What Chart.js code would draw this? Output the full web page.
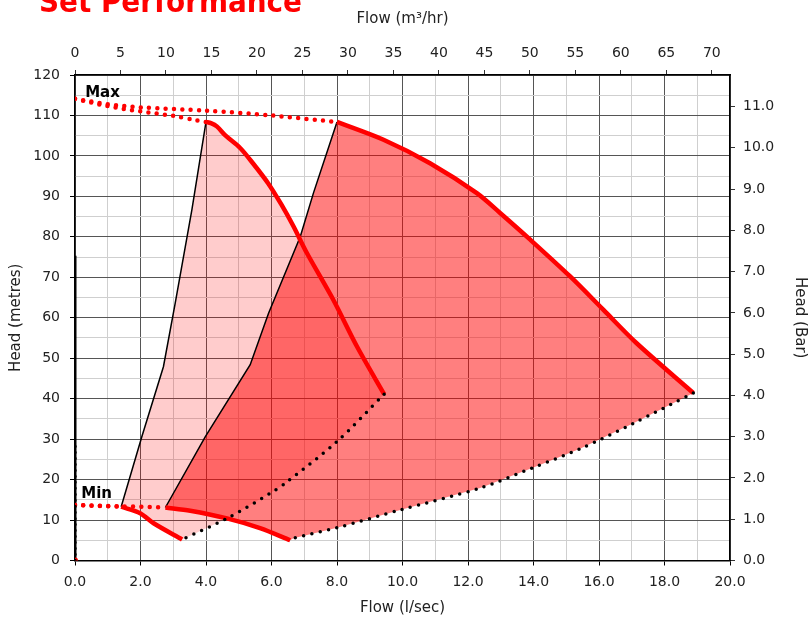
<!DOCTYPE html>
<html>
<head>
<meta charset="utf-8">
<script src="https://cdn.jsdelivr.net/npm/chart.js@4.4.1/dist/chart.umd.min.js"></script>
<style>
  html, body { margin: 0; padding: 0; background: #fff; }
  #wrap { width: 809px; height: 618px; }
</style>
</head>
<body>
<div id="wrap"><canvas id="perfChart" width="809" height="618"></canvas></div>
<script>
// unit conversions for the secondary axes
const M_PER_BAR = 10.2;
const M3HR_PER_LS = 3.6;
const FLOW_MAX = 20;   // l/sec
const HEAD_MAX = 120;  // metres

// small set envelope (flow l/sec, head m)
const smallRise  = [[1.41, 13.3], [2.04, 30.6], [2.70, 47.9], [3.06, 63.6], [3.57, 86.7], [4.00, 108.4]];
const smallCurve = [[4.00, 108.4], [4.15, 108.1], [4.33, 107.3], [4.60, 105.0], [5.05, 101.9], [5.45, 98.0],
                    [5.90, 93.2], [6.30, 88.0], [6.67, 82.6], [7.08, 76.0], [7.89, 64.4], [8.61, 52.9], [9.44, 41.1]];
const smallEnd   = [[9.44, 41.1], [8.00, 29.4], [6.42, 19.1], [5.96, 16.6], [4.64, 10.4], [3.27, 5.2]];
const smallLow   = [[3.27, 5.2], [2.40, 9.2], [1.99, 11.7], [1.41, 13.3]];

// large set envelope
const largeRise  = [[2.76, 13.1], [3.98, 30.6], [5.35, 48.4], [5.91, 61.1], [6.88, 80.1], [7.28, 90.8], [8.00, 108.4]];
const largeCurve = [[8.00, 108.4], [9.42, 104.0], [10.84, 98.2], [12.27, 90.8], [12.98, 85.9], [13.90, 79.3],
                    [15.12, 70.2], [16.13, 62.0], [17.15, 53.7], [18.88, 41.4]];
const largeEnd   = [[18.88, 41.4], [17.05, 33.9], [15.42, 27.6], [14.00, 23.0], [12.37, 17.9], [9.93, 12.5],
                    [8.00, 8.1], [6.67, 5.5], [6.57, 5.0]];
const largeLow   = [[6.57, 5.0], [5.65, 8.0], [4.64, 10.4], [3.52, 12.3], [2.76, 13.1]];

// max / min head guide lines and zero-flow line
const maxToSmall = [[0, 114.1], [1, 112.3], [2, 111.0], [3, 109.9], [3.7, 108.8], [4.0, 108.4]];
const maxToLarge = [[0, 114.1], [1, 112.8], [2, 112.0], [4, 111.2], [6, 110.0], [7.6, 108.7], [8.0, 108.4]];
const minToSmall = [[0, 13.7], [1.41, 13.3]];
const minToLarge = [[0, 13.7], [1.41, 13.4], [2.76, 13.1]];
const zeroSolid  = [[0, 0], [0, 75.3]];
const zeroDotted = [[0, 0], [0, 29.1]];
const origin     = [[0, 0]];

const pts = arr => arr.map(([x, y]) => ({ x, y }));

const FONT = '"DejaVu Sans", sans-serif';
const TICK_COL = '#222';
const DARK = '#555';
const LIGHT = '#cfcfcf';

function solid(data, color, width, order, tension = 0) {
    return { data: pts(data), borderColor: color, borderWidth: width, fill: false,
             pointRadius: 0, tension, order };
}
function dotted(data, color, width, gap, order) {
    return { data: pts(data), borderColor: color, borderWidth: width, borderDash: [0, gap],
             borderCapStyle: 'round', fill: false, pointRadius: 0, tension: 0.3, order };
}

const textPlugin = {
    id: 'chartText',
    afterDraw(chart) {
        const { ctx, scales: { x, y } } = chart;
        ctx.save();
        ctx.textBaseline = 'alphabetic';
        ctx.textAlign = 'left';
        ctx.fillStyle = '#ff0000';
        ctx.font = 'bold 30px ' + FONT;
        ctx.fillText('Set Performance', 39, 12, 263);
        ctx.fillStyle = '#000';
        ctx.font = 'bold 15px ' + FONT;
        ctx.fillText('Max', x.getPixelForValue(0.31), y.getPixelForValue(114.6));
        ctx.fillText('Min', x.getPixelForValue(0.19), y.getPixelForValue(15.5));
        ctx.restore();
    }
};

const ctx = document.getElementById('perfChart').getContext('2d');
new Chart(ctx, {
    type: 'line',
    data: {
        datasets: [
            // envelopes
            { data: pts([...smallRise, ...smallCurve, ...smallEnd, ...smallLow]), fill: 'shape',
              backgroundColor: 'rgba(255,0,0,0.2)', borderWidth: 0, pointRadius: 0, tension: 0, order: 10 },
            { data: pts([...largeRise, ...largeCurve, ...largeEnd, ...largeLow]), fill: 'shape',
              backgroundColor: 'rgba(255,0,0,0.5)', borderWidth: 0, pointRadius: 0, tension: 0, order: 9 },
            // outlines
            solid(smallRise, '#000', 1.5, 3),
            solid(largeRise, '#000', 1.5, 3),
            solid(smallCurve, '#ff0000', 4.5, 2, 0.3),
            solid(largeCurve, '#ff0000', 4.5, 2, 0.3),
            solid(smallLow, '#ff0000', 4.5, 2, 0.3),
            solid(largeLow, '#ff0000', 4.5, 2, 0.3),
            dotted(smallEnd, '#000', 3.5, 8.5, 1),
            dotted(largeEnd, '#000', 3.5, 8.5, 1),
            dotted(maxToSmall, '#ff0000', 4.5, 8.3, 1),
            dotted(maxToLarge, '#ff0000', 4.5, 8.3, 1),
            dotted(minToSmall, '#ff0000', 4.5, 8.3, 1),
            dotted(minToLarge, '#ff0000', 4.5, 8.3, 1),
            solid(zeroSolid, '#000', 3, 1),
            dotted(zeroDotted, '#000', 3.5, 6, 0),
            { data: pts(origin), pointRadius: 3, pointBackgroundColor: '#ff0000', pointBorderWidth: 0,
              showLine: false, order: 0 }
        ]
    },
    options: {
        responsive: false,
        animation: false,
        layout: { padding: 0 },
        plugins: { legend: { display: false }, tooltip: { enabled: false } },
        scales: {
            x: {
                type: 'linear', position: 'bottom', min: 0, max: FLOW_MAX,
                afterFit: s => { s.height = 57.5; },
                ticks: { stepSize: 1, autoSkip: false, maxRotation: 0, padding: 8, color: TICK_COL,
                         font: { family: FONT, size: 14 },
                         callback: v => (v % 2 === 0 ? v.toFixed(1) : '') },
                grid: { color: c => (c.tick && c.tick.value % 2 === 0 ? DARK : LIGHT),
                        tickColor: c => (c.tick && c.tick.value % 2 === 0 ? '#000' : 'rgba(0,0,0,0)'),
                        tickLength: 5 },
                border: { color: '#000', width: 1.5 },
                title: { display: true, text: 'Flow (l/sec)', color: TICK_COL,
                         font: { family: FONT, size: 15 }, padding: { top: 0, bottom: 1 } }
            },
            x2: {
                type: 'linear', position: 'top', min: 0, max: FLOW_MAX * M3HR_PER_LS,
                afterFit: s => { s.height = 75; },
                ticks: { stepSize: 5, includeBounds: false, autoSkip: false, maxRotation: 0, padding: 8,
                         color: TICK_COL, font: { family: FONT, size: 14 } },
                grid: { drawOnChartArea: false, tickLength: 5, tickColor: '#333' },
                border: { color: '#000', width: 1.5 },
                title: { display: true, text: 'Flow (m³/hr)', color: TICK_COL,
                         font: { family: FONT, size: 15 }, padding: { top: 10, bottom: 0 } }
            },
            y: {
                type: 'linear', position: 'left', min: 0, max: HEAD_MAX,
                afterFit: s => { s.width = 75; },
                ticks: { stepSize: 5, autoSkip: false, padding: 10, color: TICK_COL,
                         font: { family: FONT, size: 14 },
                         callback: v => (v % 10 === 0 ? v : '') },
                grid: { color: c => (c.tick && c.tick.value % 10 === 0 ? DARK : LIGHT),
                        tickColor: c => (c.tick && c.tick.value % 10 === 0 ? '#000' : 'rgba(0,0,0,0)'),
                        tickLength: 5 },
                border: { color: '#000', width: 1.5 },
                title: { display: true, text: 'Head (metres)', color: TICK_COL,
                         font: { family: FONT, size: 15 }, padding: { top: 7, bottom: 0 } }
            },
            y2: {
                type: 'linear', position: 'right', min: 0, max: HEAD_MAX / M_PER_BAR,
                afterFit: s => { s.width = 79; },
                ticks: { stepSize: 1, includeBounds: false, autoSkip: false, padding: 8, color: TICK_COL,
                         font: { family: FONT, size: 14 }, callback: v => v.toFixed(1) },
                grid: { drawOnChartArea: false, tickLength: 5, tickColor: '#333' },
                border: { color: '#000', width: 1.5 },
                title: { display: true, text: 'Head (Bar)', color: TICK_COL,
                         font: { family: FONT, size: 15 }, padding: { top: 0, bottom: 0 } }
            }
        }
    },
    plugins: [textPlugin]
});
</script>
</body>
</html>
